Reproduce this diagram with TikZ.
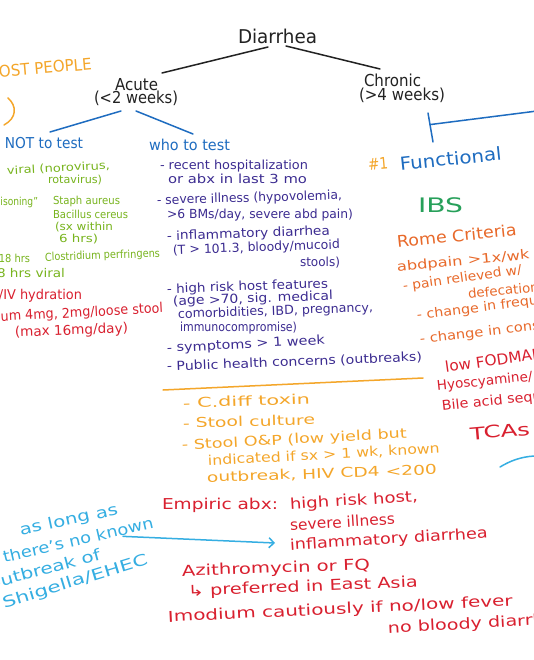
\documentclass[tikz,border=0pt]{standalone}
\usepackage{fontspec}
\setmainfont{DejaVu Sans}
\usetikzlibrary{calc,arrows.meta}
\definecolor{inkblack}{HTML}{222222}
\definecolor{inkblue}{HTML}{1E6CC0}
\definecolor{inkpurple}{HTML}{3C2C91}
\definecolor{inkygreen}{HTML}{78B41E}
\definecolor{inkamber}{HTML}{F4A62A}
\definecolor{inkrome}{HTML}{E8692A}
\definecolor{inkred}{HTML}{D9202F}
\definecolor{inkgreen}{HTML}{27A05A}
\definecolor{inklblue}{HTML}{35AEE2}
\newcommand\hwt[2]{\resizebox{#1pt}{\height}{#2}}
\begin{document}
\begin{tikzpicture}[x=1pt,y=-1pt,
  fsz/.style={font=\fontsize{#1}{#1}\selectfont},
  hw/.style={inner sep=0pt, outer sep=0pt, anchor=west},
  hwe/.style={inner sep=0pt, outer sep=0pt, anchor=east},
  blk/.style={text=inkblack, fsz=16.5},
  dbl/.style={text=inkblue, fsz=15},
  pur/.style={text=inkpurple, fsz=12.5},
  ygr/.style={text=inkygreen, fsz=11},
  amb/.style={text=inkamber, fsz=13.5},
  rom/.style={text=inkrome, fsz=13},
  rd/.style={text=inkred, fsz=13.5},
  rdl/.style={text=inkred, fsz=15},
  ibs/.style={text=inkgreen, fsz=20},
  lbl/.style={text=inklblue, fsz=15.5},
  pen/.style={line width=1.5pt, line cap=round, line join=round}]
\useasboundingbox (0,0) rectangle (533,660);
\fill[white] (0,0) rectangle (533,660);

% ---------- black tree ----------
\node[hw,blk,fsz=19] (dia) at (238,36) {\hwt{79}{Diarrhea}};
\node[hw,blk] (acute) at (115,85) {\hwt{43}{Acute}};
\node[hw,blk] (acw) at (94,98) {\hwt{84}{(<2 weeks)}};
\node[hw,blk] (chr) at (364,80) {\hwt{57}{Chronic}};
\node[hw,blk] (chw) at (359,95) {\hwt{86}{(>4 weeks)}};
\draw[pen,inkblack] ($(dia.west)+(30,11)$) -- ($(acute.east)+(4,-12)$);
\draw[pen,inkblack] ($(dia.west)+(48,10)$) -- ($(chr.west)+(16,-11)$);

% ---------- acute branches ----------
\node[hw,dbl] (nott) at (5,143) {\hwt{78}{NOT to test}};
\node[hw,dbl] (who) at (149,145) {\hwt{81}{who to test}};
\draw[pen,inkblue] ($(acw.west)+(27,13)$) -- ($(nott.west)+(45,-11)$);
\draw[pen,inkblue] ($(acw.west)+(42,13)$) -- ($(who.west)+(44,-11)$);

% most people
\node[hw,amb,fsz=16,rotate=5] (most) at (-14,73) {\hwt{106}{MOST PEOPLE}};
\draw[pen,inkamber] (8,98) .. controls (17,106) and (17,118) .. (4,125);

% NOT to test (green)
\node[hw,ygr,rotate=3] (g1) at (7,171) {\hwt{103}{viral (norovirus,}};
\node[hw,ygr] (g2) at (48,180) {\hwt{54}{rotavirus)}};
\node[hwe,ygr] (g3) at (38,202) {\hwt{72}{food poisoning”}};
\node[hw,ygr] (g4) at (53,201) {\hwt{67}{Staph aureus}};
\node[hw,ygr] (g5) at (53,214) {\hwt{75}{Bacillus cereus}};
\node[hw,ygr] (g6) at (55,227) {\hwt{58}{(sx within}};
\node[hw,ygr] (g7) at (59,239) {\hwt{39}{6 hrs)}};
\node[hwe,ygr] (g8) at (30,258) {\hwt{41}{8-18 hrs}};
\node[hw,ygr,rotate=2] (g9) at (45,258) {\hwt{115}{Clostridium perfringens}};
\node[hwe,ygr,fsz=12] (g10) at (65,273) {\hwt{88}{>18 hrs viral}};

% red treatment (left)
\node[hwe,rd] (r1) at (82,296) {\hwt{101}{PO/IV hydration}};
\node[hwe,rd,rotate=3] (r2) at (163,309) {\hwt{198}{Imodium 4mg, 2mg/loose stool}};
\node[hw,rd,rotate=2] (r3) at (15,333) {\hwt{113}{(max 16mg/day)}};

% who to test (purple)
\node[hw,pur] (p1) at (160,166) {\hwt{148}{- recent hospitalization}};
\node[hw,pur] (p2) at (168,179) {\hwt{139}{or abx in last 3 mo}};
\node[hw,pur,rotate=1.5] (p3) at (157,201) {\hwt{185}{- severe illness (hypovolemia,}};
\node[hw,pur] (p4) at (167,215) {\hwt{186}{>6 BMs/day, severe abd pain)}};
\node[hw,pur,rotate=2] (p5) at (167,237) {\hwt{163}{- inflammatory diarrhea}};
\node[hw,pur,rotate=2] (p6) at (173,251) {\hwt{167}{(T > 101.3, bloody/mucoid}};
\node[hw,pur] (p7) at (300,263) {\hwt{40}{stools)}};
\node[hw,pur,rotate=2] (p8) at (167,290) {\hwt{161}{- high risk host features}};
\node[hw,pur,rotate=2] (p9) at (173,302) {\hwt{160}{(age >70, sig. medical}};
\node[hw,pur,rotate=2] (p10) at (178,315) {\hwt{195}{comorbidities, IBD, pregnancy,}};
\node[hw,pur] (p11) at (180,328) {\hwt{117}{immunocompromise)}};
\node[hw,pur,rotate=3] (p12) at (167,349) {\hwt{158}{- symptoms > 1 week}};
\node[hw,pur,rotate=2.2] (p13) at (167,367) {\hwt{255}{- Public health concerns (outbreaks)}};

% tests (amber)
\draw[pen,inkamber] (163,390) -- (423,378);
\node[hw,amb,rotate=2] (o1) at (183,403) {\hwt{127}{- C.diff toxin}};
\node[hw,amb,rotate=1.5] (o2) at (183,423) {\hwt{132}{- Stool culture}};
\node[hw,amb,rotate=3] (o3) at (182,446) {\hwt{225}{- Stool O\&P (low yield but}};
\node[hw,amb,rotate=3] (o4) at (208,461) {\hwt{232}{indicated if sx > 1 wk, known}};
\node[hw,amb,rotate=2] (o5) at (207,478) {\hwt{230}{outbreak, HIV CD4 <200}};

% empiric abx (red)
\node[hw,rdl] (e1) at (162,505) {\hwt{116}{Empiric abx:}};
\node[hw,rdl,rotate=3.5] (e2) at (290,505) {\hwt{128}{high risk host,}};
\node[hw,rdl,rotate=3.5] (e3) at (290,525) {\hwt{105}{severe illness}};
\node[hw,rdl,rotate=3.5] (infl) at (290,546) {\hwt{198}{inflammatory diarrhea}};
\node[hw,rdl,rotate=2] (e5) at (182,572) {\hwt{188}{Azithromycin or FQ}};
\node[hw,rdl,rotate=2.3] (e6) at (188,592) {\hwt{230}{↳ preferred in East Asia}};
\node[hw,rdl,rotate=2.7] (e7) at (168,618) {\hwt{345}{Imodium cautiously if no/low fever}};
\node[hw,rdl,rotate=3] (e8) at (388,629) {\hwt{180}{no bloody diarrhea}};

% light blue note
\node[hw,lbl,rotate=12] (alas) at (20,531) {\hwt{100}{as long as}};
\node[hw,lbl,rotate=13] (known) at (3,557) {\hwt{154}{there's no known}};
\node[hwe,lbl,rotate=15] (outb) at (100,554) {\hwt{115}{outbreak of}};
\node[hw,lbl,rotate=17] (shig) at (3,604) {\hwt{151}{Shigella/EHEC}};
\draw[pen,inklblue,-{Straight Barb[length=5pt,width=10pt]}] ($(known.east)+(-30,14)$) -- ($(infl.west)+(-15,-3)$);

% ---------- chronic ----------
\node[hw,amb,fsz=16,rotate=5] (n1) at (368,165) {\hwt{20}{\#1}};
\node[hw,dbl,fsz=18,rotate=6] (func) at (400,164) {\hwt{102}{Functional}};
\coordinate (vtop) at ($(chw.west)+(69,18)$);
\coordinate (vbot) at ($(func.west)+(33,-22)$);
\coordinate (jn) at ($(vtop)!0.4!(vbot)$);
\coordinate (chb) at (545,110);
\draw[pen,inkblue] (vtop) -- (vbot);
\draw[pen,inkblue] (jn) -- (chb);

\node[hw,ibs] (ibsn) at (418,205) {\hwt{45}{IBS}};
\node[hw,rom,fsz=16,rotate=6] (rome) at (397,242) {\hwt{120}{Rome Criteria}};
\node[hw,rom,rotate=5.5] (ab) at (397,268) {\hwt{133}{abdpain >1x/wk}};
\node[hw,rom,rotate=8] (pr) at (403,287) {\hwt{120}{- pain relieved w/}};
\node[hw,rom,rotate=6] (def) at (468,294) {\hwt{71}{defecation}};
\node[hw,rom,rotate=7] (cf) at (417,316) {\hwt{156}{- change in frequency}};
\node[hw,rom,rotate=6.5] (cc) at (420,340) {\hwt{173}{- change in consistency}};

\node[hw,rd,fsz=15,rotate=8] (fod) at (445,367) {\hwt{97}{low FODMAP}};
\node[hw,rd,rotate=6] (hyo) at (437,387) {\hwt{96}{Hyoscyamine/}};
\node[hw,rd,rotate=6] (bile) at (442,407) {\hwt{159}{Bile acid sequestrants}};
\node[hw,rd,fsz=17,rotate=5] (tca) at (470,434) {\hwt{60}{TCAs}};
\draw[pen,inklblue] (500,467) .. controls (510,461) and (520,457) .. (534,456);
\end{tikzpicture}
\end{document}
